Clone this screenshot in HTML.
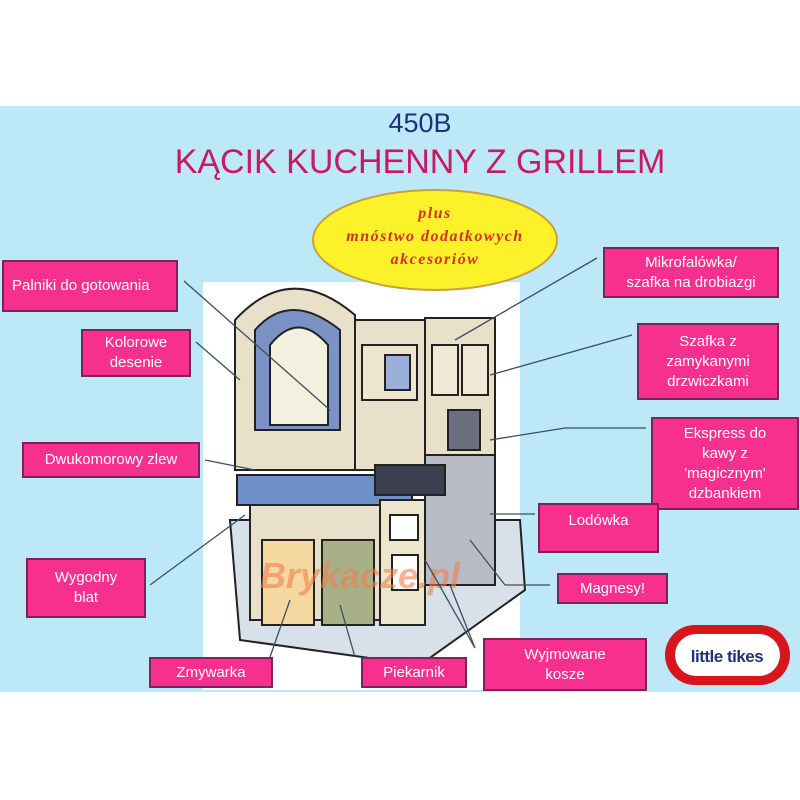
<!DOCTYPE html>
<html><head><meta charset="utf-8"><style>
body{margin:0;width:800px;height:800px;background:#fff;position:relative;overflow:hidden;font-family:"Liberation Sans",sans-serif}
#bg{position:absolute;left:0;top:106px;width:800px;height:586px;background:#bde8f7}
.b{position:absolute;background:#f7308f;border:2px solid #7a2458;color:#fff;font-size:15px;text-align:center;display:flex;align-items:center;justify-content:center;line-height:20px;box-sizing:border-box}
</style></head><body>
<div id="bg"></div>
<div style="position:absolute;left:0;width:840px;top:108px;text-align:center;font-size:27px;color:#1d2f80">450B</div>
<div style="position:absolute;left:0;width:840px;top:143px;text-align:center;font-size:34px;color:#c81a63">KĄCIK KUCHENNY Z GRILLEM</div>
<svg style="position:absolute;left:0;top:0" width="800" height="800">
<rect x="203" y="282" width="317" height="408" fill="#fff"/>
<ellipse cx="435" cy="240" rx="122" ry="50" fill="#fdf22a" stroke="#c8a040" stroke-width="2"/>
<text x="435" y="218" text-anchor="middle" font-family="Liberation Serif" font-style="italic" font-weight="bold" font-size="16" fill="#d4302a" letter-spacing="1.5">plus</text>
<text x="435" y="241" text-anchor="middle" font-family="Liberation Serif" font-style="italic" font-weight="bold" font-size="16" fill="#d4302a" letter-spacing="1.5">mnóstwo dodatkowych</text>
<text x="435" y="264" text-anchor="middle" font-family="Liberation Serif" font-style="italic" font-weight="bold" font-size="16" fill="#d4302a" letter-spacing="1.5">akcesoriów</text>
<g stroke="#222" stroke-width="2">
<polygon points="230,520 520,520 525,590 420,665 240,640" fill="#d8e0ea"/>
<path d="M235,320 Q290,260 355,315 L355,470 L235,470 Z" fill="#e8e0c8"/>
<path d="M255,330 Q290,290 340,330 L340,430 L255,430 Z" fill="#7a92c4"/>
<path d="M270,345 Q298,310 328,345 L328,425 L270,425 Z" fill="#f4f0e0"/>
<rect x="355" y="320" width="70" height="150" fill="#e8e0c8"/>
<rect x="362" y="345" width="55" height="55" fill="#ede5cc"/>
<rect x="385" y="355" width="25" height="35" fill="#9ab0d8"/>
<rect x="425" y="318" width="70" height="150" fill="#e8e0c8"/>
<rect x="432" y="345" width="26" height="50" fill="#eee8d4"/><rect x="462" y="345" width="26" height="50" fill="#eee8d4"/>
<rect x="448" y="410" width="32" height="40" fill="#6a7080"/>
<rect x="425" y="455" width="70" height="130" fill="#b8bcc4"/>
<rect x="237" y="475" width="175" height="30" fill="#6e8ec8"/>
<rect x="375" y="465" width="70" height="30" fill="#3a4050"/>
<rect x="250" y="505" width="130" height="115" fill="#e8e0c8"/>
<rect x="262" y="540" width="52" height="85" fill="#f4d8a0"/>
<rect x="322" y="540" width="52" height="85" fill="#a8b088"/>
<rect x="380" y="500" width="45" height="125" fill="#ede5cc"/>
<rect x="390" y="515" width="28" height="25" fill="#fff"/>
<rect x="392" y="555" width="26" height="35" fill="#fff"/>
</g>
<text x="360" y="588" text-anchor="middle" font-size="36" font-weight="bold" font-style="italic" fill="#f08050" opacity="0.6">Brykacze.pl</text>
<g stroke="#3a5060" stroke-width="1.3" fill="none">
<line x1="184" y1="281" x2="330" y2="410"/>
<line x1="196" y1="342" x2="240" y2="380"/>
<line x1="205" y1="460" x2="255" y2="470"/>
<line x1="150" y1="585" x2="245" y2="515"/>
<line x1="270" y1="657" x2="290" y2="600"/>
<line x1="355" y1="657" x2="340" y2="605"/>
<line x1="475" y1="648" x2="450" y2="585"/>
<line x1="475" y1="648" x2="425" y2="560"/>
<line x1="597" y1="258" x2="455" y2="340"/>
<line x1="632" y1="335" x2="490" y2="375"/>
<polyline points="646,428 565,428 490,440"/>
<line x1="535" y1="514" x2="490" y2="514"/>
<polyline points="550,585 505,585 470,540"/>
</g>
<rect x="665" y="625" width="125" height="60" rx="30" fill="#d8141c"/>
<rect x="675" y="634" width="105" height="42" rx="21" fill="#fff"/>
<text x="727" y="662" text-anchor="middle" font-size="17" font-weight="bold" fill="#1d3478" letter-spacing="-0.5">little tikes</text>
</svg>
<div class="b" style="left:2px;top:260px;width:176px;height:52px;justify-content:flex-start;padding-left:8px">Palniki do gotowania</div>
<div class="b" style="left:81px;top:329px;width:110px;height:48px">Kolorowe<br>desenie</div>
<div class="b" style="left:22px;top:442px;width:178px;height:36px">Dwukomorowy zlew</div>
<div class="b" style="left:26px;top:558px;width:120px;height:60px">Wygodny<br>blat</div>
<div class="b" style="left:149px;top:657px;width:124px;height:31px">Zmywarka</div>
<div class="b" style="left:361px;top:657px;width:106px;height:31px">Piekarnik</div>
<div class="b" style="left:483px;top:638px;width:164px;height:53px">Wyjmowane<br>kosze</div>
<div class="b" style="left:603px;top:247px;width:176px;height:51px">Mikrofalówka/<br>szafka na drobiazgi</div>
<div class="b" style="left:637px;top:323px;width:142px;height:77px">Szafka z<br>zamykanymi<br>drzwiczkami</div>
<div class="b" style="left:651px;top:417px;width:148px;height:93px">Ekspress do<br>kawy z<br>'magicznym'<br>dzbankiem</div>
<div class="b" style="left:538px;top:503px;width:121px;height:50px;align-items:flex-start;padding-top:6px">Lodówka</div>
<div class="b" style="left:557px;top:573px;width:111px;height:31px">Magnesy!</div>
</body></html>
